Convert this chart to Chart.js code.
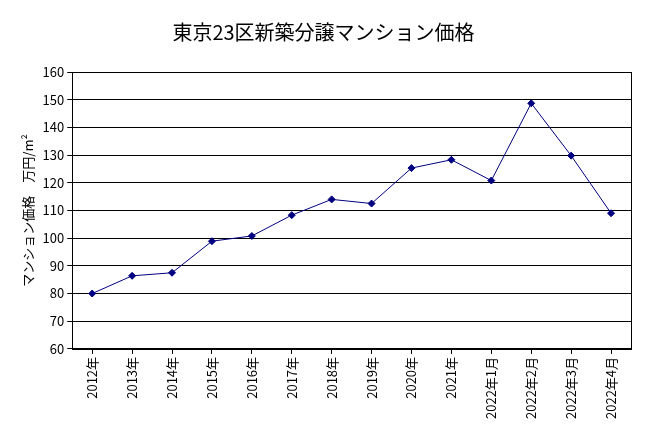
<!DOCTYPE html>
<html><head><meta charset="utf-8">
<script src="https://cdn.jsdelivr.net/npm/chart.js@4"></script>
<style>html,body{margin:0;padding:0;background:#fff}#w{width:645px;height:444px}</style>
</head><body><div id="w"><canvas id="c"></canvas></div>
<script>
const categories=["2012年","2013年","2014年","2015年","2016年","2017年","2018年","2019年","2020年","2021年","2022年1月","2022年2月","2022年3月","2022年4月"];
const prices=[80,86.4,87.5,98.9,100.8,108.3,114,112.5,125.3,128.3,120.8,148.7,129.8,109];
const font="'Noto Sans CJK JP', sans-serif";
const frame={id:'frame',afterDraw(ch){const a=ch.chartArea,x=ch.ctx;x.save();x.strokeStyle='#000';x.lineWidth=1;x.strokeRect(Math.round(a.left)+.5,Math.round(a.top)+.5,Math.round(a.right-a.left),Math.round(a.bottom-a.top));x.restore();}};
new Chart(document.getElementById('c'),{
type:'line',
plugins:[frame],
data:{labels:categories,datasets:[{data:prices,borderColor:'#000080',borderWidth:1,backgroundColor:'#000080',pointStyle:'rectRot',pointRadius:3.5,pointBorderColor:'#000080',tension:0}]},
options:{responsive:true,maintainAspectRatio:false,animation:false,
layout:{padding:{left:16,right:14,top:20,bottom:22}},
plugins:{legend:{display:false},tooltip:{enabled:false},
title:{display:true,text:'東京23区新築分譲マンション価格',color:'#000',font:{family:font,size:20,weight:'normal'},padding:{top:0,bottom:28}}},
scales:{
x:{offset:true,grid:{display:true,drawOnChartArea:false,color:'#000',tickLength:5},border:{color:'#000'},
ticks:{color:'#000',font:{family:font,size:13},maxRotation:90,minRotation:90,autoSkip:false}},
y:{min:60,max:160,grid:{color:'#000',tickLength:5},border:{color:'#000'},
ticks:{stepSize:10,color:'#000',font:{family:font,size:13}},
title:{display:true,text:'マンション価格　万円/m²',color:'#000',font:{family:font,size:13}}}
}}
});
</script></body></html>
